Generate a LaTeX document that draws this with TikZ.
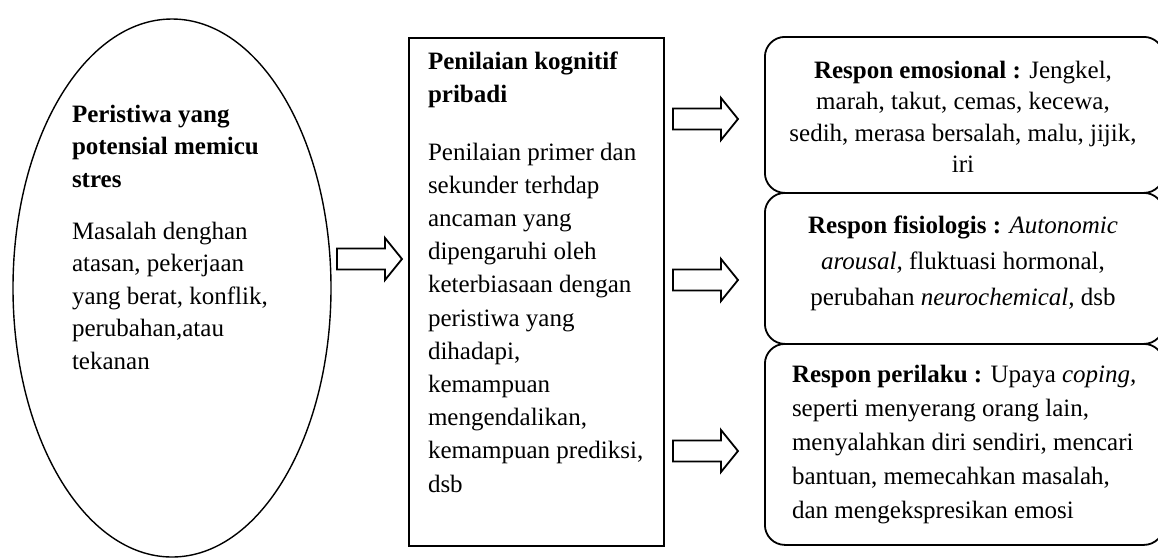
\documentclass[tikz,border=0pt]{standalone}
\usepackage{fontspec}
\setmainfont{Liberation Serif}
\usetikzlibrary{shapes.geometric}
\begin{document}
\begin{tikzpicture}[x=0.5pt,y=-0.5pt,
  line/.style={draw=black,line width=0.9pt},
  thinline/.style={draw=black,line width=0.7pt},
  txt/.style={inner sep=0pt,outer sep=0pt,font=\fontsize{12.5pt}{16.6pt}\selectfont},
  rbox/.style={line,rounded corners=10pt,anchor=north west,inner sep=0pt,minimum width=199.5pt},
  pics/blockarrow/.style={code={
    \draw[line,line join=miter] (0,-10.5) -- (48,-10.5) -- (48,-21) -- (65,0) -- (48,21) -- (48,10.5) -- (0,10.5) -- cycle;
  }}]
\useasboundingbox (0,0) rectangle (1158,559);
\clip (0,0) rectangle (1158,559);

% left ellipse
\node[thinline,ellipse,inner sep=0pt,minimum width=159pt,minimum height=269pt] (event) at (172,288) {};
\node[txt,anchor=base west,align=left,font=\fontsize{12.5pt}{16.2pt}\selectfont] (eventtext) at (72,369)
 {\textbf{Peristiwa yang}\\ \textbf{potensial memicu}\\ \textbf{stres}\\[10pt]
  Masalah denghan\\ atasan, pekerjaan\\ yang berat, konflik,\\ perubahan,atau\\ tekanan};

% middle box
\node[line,anchor=north west,inner sep=0pt,minimum width=127.5pt,minimum height=254pt] (appraisal) at (408,37) {};
\node[txt,anchor=base west,align=left] (appraisaltext) at (428,492)
 {\textbf{Penilaian kognitif}\\ \textbf{pribadi}\\[12pt]
  Penilaian primer dan\\ sekunder terhdap\\ ancaman yang\\ dipengaruhi oleh\\ keterbiasaan dengan\\ peristiwa yang\\ dihadapi,\\ kemampuan\\ mengendalikan,\\ kemampuan prediksi,\\ dsb};

% right boxes
\node[rbox,minimum height=78pt] (emo) at (764,36) {};
\node[rbox,minimum height=75.5pt] (fis) at (764,192) {};
\node[rbox,minimum height=100.5pt] (beh) at (764,343) {};

\node[txt,anchor=base,align=center,font=\fontsize{12.5pt}{15.75pt}\selectfont] (emotext) at (963,172.5)
 {\textbf{Respon emosional :} Jengkel,\\ marah, takut, cemas, kecewa,\\ sedih, merasa bersalah, malu, jijik,\\ iri};
\node[txt,anchor=base,align=center,font=\fontsize{12.5pt}{18pt}\selectfont] (fistext) at (963,305)
 {\textbf{Respon fisiologis :} \textit{Autonomic}\\ \textit{arousal,} fluktuasi hormonal,\\ perubahan \textit{neurochemical,} dsb};
\node[txt,anchor=base west,align=left,font=\fontsize{12.5pt}{17pt}\selectfont] (behtext) at (792,518)
 {\textbf{Respon perilaku :} Upaya \textit{coping,}\\ seperti menyerang orang lain,\\ menyalahkan diri sendiri, mencari\\ bantuan, memecahkan masalah,\\ dan mengekspresikan emosi};

% block arrows
\coordinate (a0) at (337,259);
\coordinate (a1) at (673,119);
\coordinate (a2) at (673,280);
\coordinate (a3) at (673,451);
\pic at (a0) {blockarrow};
\pic at (a1) {blockarrow};
\pic at (a2) {blockarrow};
\pic at (a3) {blockarrow};
\end{tikzpicture}
\end{document}
